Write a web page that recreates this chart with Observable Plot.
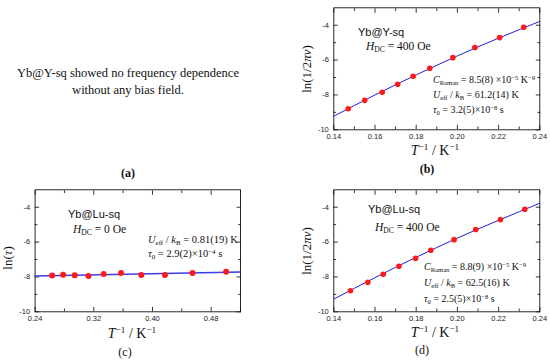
<!DOCTYPE html>
<html><head><meta charset="utf-8">
<script src="https://cdn.jsdelivr.net/npm/d3@7"></script>
<script src="https://cdn.jsdelivr.net/npm/@observablehq/plot@0.6"></script>
<style>
body{margin:0;background:#fff}
#root{position:relative;width:550px;height:363px;overflow:hidden;background:#fff}
.panel{position:absolute}
.note{position:absolute;white-space:nowrap;line-height:1;color:#111}
.note sub,.note sup{font-size:0.66em;line-height:0;position:relative;vertical-align:baseline}
.note sub{top:0.32em}
.note sup{top:-0.5em}
</style></head><body><div id="root"></div>
<script>
// ---- data ----
// (b) Yb@Y-sq, H_DC = 400 Oe
const bInvT = [0.147, 0.155, 0.1635, 0.171, 0.1785, 0.1866, 0.1978, 0.2085, 0.2205, 0.2322];
const bLnTau = [-8.79, -8.31, -7.85, -7.39, -6.93, -6.47, -5.86, -5.28, -4.71, -4.12];
const bFitInvT = [0.14, 0.16, 0.18, 0.20, 0.22, 0.24];
const bFitLnTau = [-9.22, -8.00, -6.85, -5.76, -4.74, -3.78];
// (c) Yb@Lu-sq, H_DC = 0 Oe
const cInvT = [0.2632, 0.2782, 0.294, 0.3127, 0.3335, 0.3571, 0.3848, 0.417, 0.4546, 0.5004];
const cLnTau = [-7.92, -7.87, -7.91, -7.94, -7.83, -7.77, -7.89, -7.89, -7.77, -7.70];
const cFitInvT = [0.24, 0.52];
const cFitLnTau = [-7.95, -7.72];
// (d) Yb@Lu-sq, H_DC = 400 Oe
const dInvT = [0.1481, 0.1565, 0.164, 0.1716, 0.1797, 0.1871, 0.1984, 0.2089, 0.2209, 0.2327];
const dLnTau = [-8.79, -8.31, -7.85, -7.39, -6.93, -6.47, -5.86, -5.28, -4.71, -4.12];
const dFitInvT = [0.14, 0.16, 0.18, 0.20, 0.22, 0.24];
const dFitLnTau = [-9.27, -8.04, -6.87, -5.77, -4.75, -3.77];
// ticks
const yMajor = [-10, -8, -6, -4];
const yMinor = [-9, -7, -5];
const xMajorBD = [0.14, 0.16, 0.18, 0.20, 0.22, 0.24];
const xMinorBD = [0.15, 0.17, 0.19, 0.21, 0.23];
const xMajorC = [0.24, 0.32, 0.40, 0.48];
const xMinorC = [0.28, 0.36, 0.44, 0.52];

const root = document.getElementById("root");
const zip = (xs, ys) => xs.map((x, i) => ({x, y: ys[i]}));

function panel({left, top, width, height, margins, xDomain, xMajor, xMinor, pts, fit, lineColor, lineWidth, r}) {
  const [mt, mr, mb, ml] = margins;
  const ax = {label: null};
  const p = Plot.plot({
    width, height,
    marginTop: mt, marginRight: mr, marginBottom: mb, marginLeft: ml,
    style: {fontFamily: "'Liberation Sans', Arial, sans-serif", fontSize: "7.5px", background: "transparent", overflow: "visible"},
    x: {domain: xDomain},
    y: {domain: [-10, -3]},
    marks: [
      Plot.axisX(xMajor, {...ax, anchor: "bottom", tickSize: 0, tickPadding: 4, tickFormat: d3.format(".2f"), fontSize: 7.5, fill: "#222"}),
      Plot.axisX(xMajor, {...ax, anchor: "bottom", tickSize: -4.5, text: null, strokeWidth: 0.8}),
      Plot.axisX(xMinor, {...ax, anchor: "bottom", tickSize: -2.8, text: null, strokeWidth: 0.8}),
      Plot.axisX(xMajor, {...ax, anchor: "top", tickSize: -4.5, text: null, strokeWidth: 0.8}),
      Plot.axisX(xMinor, {...ax, anchor: "top", tickSize: -2.8, text: null, strokeWidth: 0.8}),
      Plot.axisY(yMajor, {...ax, anchor: "left", tickSize: 0, tickPadding: 5, tickFormat: d => String(d), fontSize: 7.5, fill: "#222"}),
      Plot.axisY(yMajor, {...ax, anchor: "left", tickSize: -4.5, text: null, strokeWidth: 0.8}),
      Plot.axisY(yMinor, {...ax, anchor: "left", tickSize: -2.8, text: null, strokeWidth: 0.8}),
      Plot.axisY(yMajor, {...ax, anchor: "right", tickSize: -4.5, text: null, strokeWidth: 0.8}),
      Plot.axisY(yMinor, {...ax, anchor: "right", tickSize: -2.8, text: null, strokeWidth: 0.8}),
      Plot.frame({stroke: "#111", strokeWidth: 0.9}),
      Plot.line(fit, {x: "x", y: "y", stroke: lineColor, strokeWidth: lineWidth, curve: "natural"}),
      Plot.dot(pts, {x: "x", y: "y", r, fill: "#ff1a1a", stroke: "none"})
    ]
  });
  p.classList.add("panel");
  p.style.left = left + "px";
  p.style.top = top + "px";
  root.appendChild(p);
}

function note(html, x, y, {align = "left", size = 10, family = "'Liberation Serif', 'Times New Roman', serif", weight = "normal", rotate = 0} = {}) {
  const d = document.createElement("div");
  d.className = "note";
  d.innerHTML = html;
  d.style.left = x + "px";
  d.style.top = y + "px";
  d.style.fontSize = size + "px";
  d.style.fontFamily = family;
  d.style.fontWeight = weight;
  const tx = align === "center" ? "-50%" : "0";
  d.style.transform = `translate(${tx},-50%)` + (rotate ? ` rotate(${rotate}deg)` : "");
  root.appendChild(d);
}

// panels
panel({left: 275, top: 0, width: 275, height: 182, margins: [7.3, 10.7, 52.7, 58.3],
  xDomain: [0.14, 0.24], xMajor: xMajorBD, xMinor: xMinorBD,
  pts: zip(bInvT, bLnTau), fit: zip(bFitInvT, bFitLnTau), lineColor: "#2020e0", lineWidth: 1, r: 2.8});
panel({left: 0, top: 182, width: 275, height: 181, margins: [7.3, 35, 51.7, 34.6],
  xDomain: [0.24, 0.52], xMajor: xMajorC, xMinor: xMinorC,
  pts: zip(cInvT, cLnTau), fit: zip(cFitInvT, cFitLnTau), lineColor: "#3c3ce6", lineWidth: 1.6, r: 3});
panel({left: 275, top: 182, width: 275, height: 181, margins: [7.3, 10.7, 51.7, 58.3],
  xDomain: [0.14, 0.24], xMajor: xMajorBD, xMinor: xMinorBD,
  pts: zip(dInvT, dLnTau), fit: zip(dFitInvT, dFitLnTau), lineColor: "#2020e0", lineWidth: 1, r: 2.8});

const sans = "'Liberation Sans', Arial, sans-serif";
const xLab = "<i>T</i><sup>\u22121</sup> / K<sup>\u22121</sup>";

// (a)
note("Yb@Y-sq showed no frequency dependence", 128, 73, {align: "center", size: 12.5});
note("without any bias field.", 128, 89.5, {align: "center", size: 12.5});
note("(a)", 128, 173, {align: "center", size: 12, weight: "bold"});

// (b)
note("Yb@Y-sq", 358, 32, {size: 11, family: sans});
note("<i>H</i><sub>DC</sub> = 400 Oe", 366, 47, {size: 11.5});
note("<i>C</i><sub>Raman</sub> = 8.5(8) \u00d710<sup>\u22125</sup> K<sup>\u22129</sup>", 433, 80, {size: 10});
note("<i>U</i><sub>eff</sub> / <i>k</i><sub>B</sub> = 61.2(14) K", 433, 95, {size: 10});
note("<i>\u03c4</i><sub>0</sub> = 3.2(5)\u00d710<sup>\u22128</sup> s", 433, 110, {size: 10});
note("ln(1/2<i>\u03c0\u03bd</i>)", 306, 69, {align: "center", size: 13, rotate: -90});
note(xLab, 435, 150.5, {align: "center", size: 14});
note("(b)", 427, 168.5, {align: "center", size: 12, weight: "bold"});

// (c)
note("Yb@Lu-sq", 68, 214, {size: 11, family: sans});
note("<i>H</i><sub>DC</sub> = 0 Oe", 73, 230, {size: 11.5});
note("<i>U</i><sub>eff</sub> / <i>k</i><sub>B</sub> = 0.81(19) K", 148, 240, {size: 10.5});
note("<i>\u03c4</i><sub>0</sub> = 2.9(2)\u00d710<sup>\u22124</sup> s", 148, 254, {size: 10.5});
note("ln(<i>\u03c4</i>)", 7, 258, {align: "center", size: 13, rotate: -90});
note(xLab, 132, 333.5, {align: "center", size: 14});
note("(c)", 125, 351.5, {align: "center", size: 12});

// (d)
note("Yb@Lu-sq", 368, 209, {size: 11, family: sans});
note("<i>H</i><sub>DC</sub> = 400 Oe", 375, 228, {size: 11.5});
note("<i>C</i><sub>Raman</sub> = 8.8(9) \u00d710<sup>\u22125</sup> K<sup>\u22129</sup>", 424, 267, {size: 10});
note("<i>U</i><sub>eff</sub> / <i>k</i><sub>B</sub> = 62.5(16) K", 424, 283, {size: 10});
note("<i>\u03c4</i><sub>0</sub> = 2.5(5)\u00d710<sup>\u22128</sup> s", 424, 299, {size: 10});
note("ln(1/2<i>\u03c0\u03bd</i>)", 306, 251, {align: "center", size: 13, rotate: -90});
note(xLab, 435, 332.5, {align: "center", size: 14});
note("(d)", 422, 349.5, {align: "center", size: 12});
</script>
</body></html>
